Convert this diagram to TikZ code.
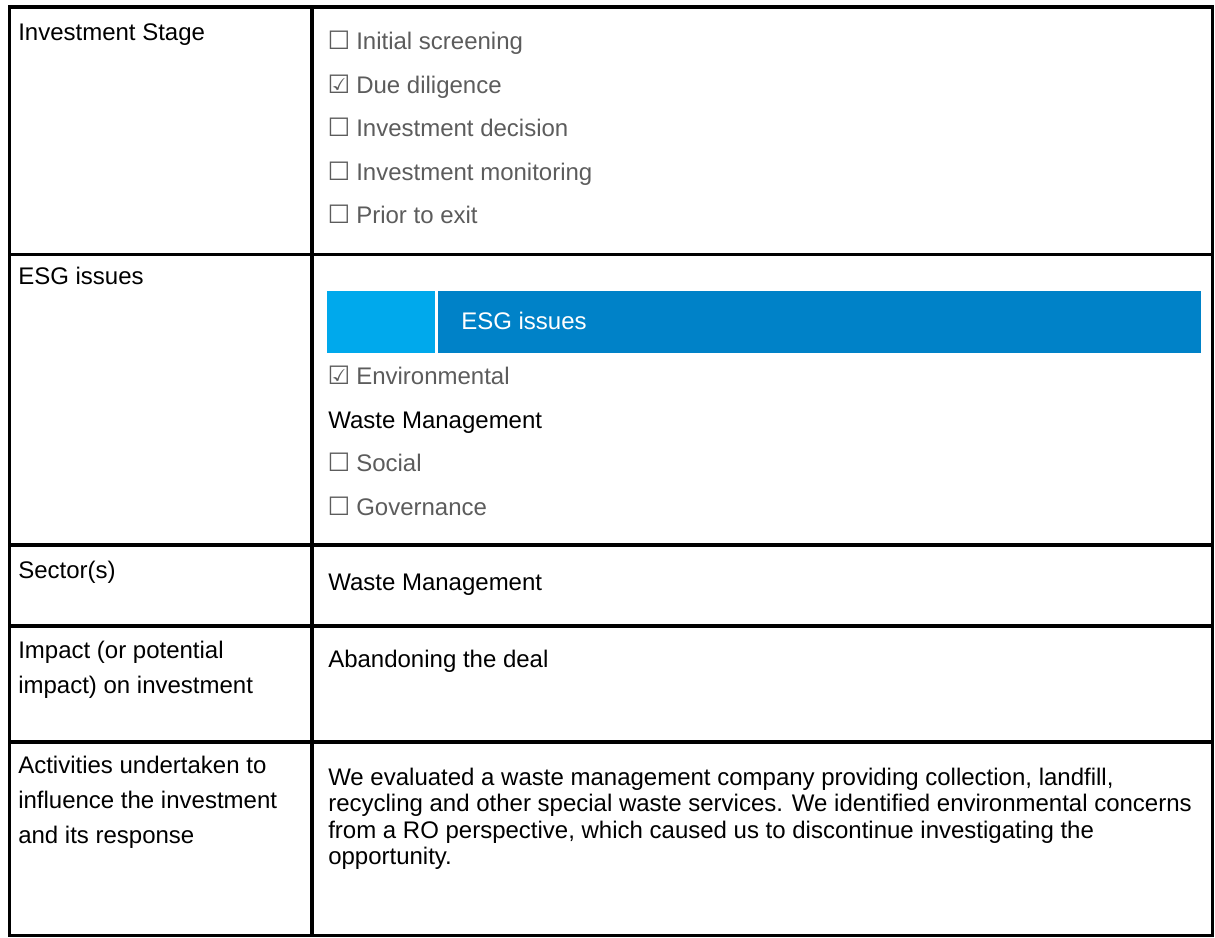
\documentclass[tikz,border=0pt]{standalone}
\usepackage{fontspec}
\setmainfont{Liberation Sans}
\newfontfamily\symfont{DejaVu Sans}
\definecolor{esglight}{HTML}{00A9EC}
\definecolor{esgdark}{HTML}{0082C8}
\definecolor{itemgray}{HTML}{5C5C5C}
\newcommand\boxun{\makebox[20.25pt][l]{\hspace{-1.2pt}\symfont\fontsize{19pt}{19pt}\selectfont ☐}}
\newcommand\boxck{\makebox[20.25pt][l]{\hspace{-1.2pt}\symfont\fontsize{19pt}{19pt}\selectfont ☑}}
\begin{document}
\begin{tikzpicture}[x=0.75pt,y=-0.75pt,
  txt/.style={anchor=base west,inner sep=0pt,font=\fontsize{18pt}{21pt}\selectfont},
  item/.style={txt,text=itemgray},
  rule/.style={line width=2.6pt,line cap=rect}]
\useasboundingbox (0,0) rectangle (1215,938);
% ESG header bar
\fill[esglight] (327,291.5) rectangle (435,352.5);
\fill[esgdark] (437.7,291.5) rectangle (1201,352.5);
\node[txt,text=white] (esghead) at (461,329.5) {ESG issues};
% table rules
\draw[rule] (9.5,7) rectangle (1212.5,935.5);
\draw[rule] (312,7) -- (312,935.5);
\foreach \yy in {254.5,545,626,742} \draw[rule] (9.5,\yy) -- (1212.5,\yy);
% left column
\node[txt] (l1) at (18,41) {Investment Stage};
\node[txt] (l2) at (18,284.5) {ESG issues};
\node[txt] (l3) at (18,578) {Sector(s)};
\node[txt] (l4a) at (18,658) {Impact (or potential};
\node[txt] (l4b) at (18,693) {impact) on investment};
\node[txt] (l5a) at (18,773) {Activities undertaken to};
\node[txt] (l5b) at (18,808) {influence the investment};
\node[txt] (l5c) at (18,843) {and its response};
% stage items
\node[item] (s1) at (329,50) {\boxun Initial screening};
\node[item] (s2) at (329,93.5) {\boxck Due diligence};
\node[item] (s3) at (329,137) {\boxun Investment decision};
\node[item] (s4) at (329,180.5) {\boxun Investment monitoring};
\node[item] (s5) at (329,224) {\boxun Prior to exit};
% ESG items
\node[item] (e1) at (329,384.5) {\boxck Environmental};
\node[txt] (e2) at (328,428) {Waste Management};
\node[item] (e3) at (329,471.5) {\boxun Social};
\node[item] (e4) at (329,515) {\boxun Governance};
% sector, impact
\node[txt] (sec) at (328,590) {Waste Management};
\node[txt] (imp) at (328,667) {Abandoning the deal};
% activities paragraph
\node[txt] (p1) at (328,785) {We evaluated a waste management company providing collection, landfill,};
\node[txt] (p2) at (328,811.5) {recycling and other special waste services. We identified environmental concerns};
\node[txt] (p3) at (328,838) {from a RO perspective, which caused us to discontinue investigating the};
\node[txt] (p4) at (328,864.5) {opportunity.};
\end{tikzpicture}
\end{document}
